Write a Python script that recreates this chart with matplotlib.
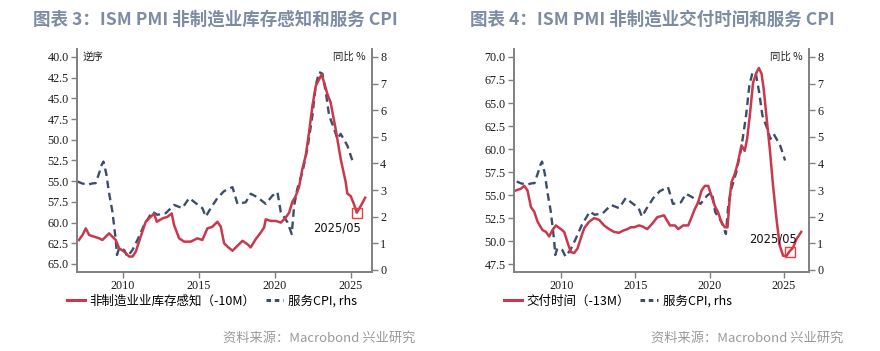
import matplotlib
matplotlib.use("Agg")
import matplotlib.pyplot as plt
from matplotlib.lines import Line2D

plt.rcParams['font.family'] = ['Noto Sans CJK SC', 'DejaVu Sans']

# ---------------- data ----------------
cpi_t = [2007.0, 2007.3, 2007.66, 2008.0, 2008.2, 2008.43, 2008.6, 2008.71, 2008.9, 2009.08,
         2009.3, 2009.52, 2009.6, 2009.74, 2010.07, 2010.29, 2010.62, 2010.95, 2011.39, 2011.93,
         2012.26, 2012.81, 2013.36, 2013.9, 2014.35, 2014.78, 2015.22, 2015.44, 2015.77, 2016.21,
         2016.65, 2017.2, 2017.53, 2018.07, 2018.4, 2018.84, 2019.39, 2019.83, 2020.16, 2020.38,
         2020.82, 2021.1, 2021.26, 2021.47, 2021.8, 2022.13, 2022.46, 2022.68, 2022.9, 2023.12,
         2023.34, 2023.56, 2023.89, 2024.1, 2024.32, 2024.76, 2025.09]
cpi_v = [3.32, 3.25, 3.2, 3.25, 3.26, 3.64, 3.95, 4.07, 3.6, 2.89,
         2.19, 1.13, 0.56, 0.81, 0.75, 0.5, 0.75, 1.13, 1.69, 2.19,
         2.07, 2.13, 2.44, 2.32, 2.7, 2.51, 2.32, 2.0, 2.32, 2.7,
         2.96, 3.11, 2.48, 2.54, 2.86, 2.73, 2.48, 2.79, 2.92, 2.17,
         1.79, 1.35, 2.42, 3.05, 3.67, 4.55, 5.8, 6.93, 7.43, 7.37,
         6.68, 5.8, 5.3, 4.92, 5.11, 4.67, 4.11]

inv_t = [2007.1, 2007.33, 2007.55, 2007.77, 2008.1, 2008.43, 2008.64, 2008.86, 2009.08, 2009.3,
         2009.52, 2009.74, 2010.07, 2010.4, 2010.62, 2010.84, 2011.16, 2011.49, 2011.82, 2012.04,
         2012.22, 2012.59, 2012.92, 2013.2, 2013.36, 2013.69, 2014.02, 2014.45, 2014.89, 2015.22,
         2015.55, 2015.88, 2016.21, 2016.43, 2016.65, 2016.87, 2017.2, 2017.53, 2017.86, 2018.18,
         2018.4, 2018.73, 2019.06, 2019.28, 2019.39, 2019.72, 2020.05, 2020.38, 2020.7, 2020.93,
         2021.14, 2021.36, 2021.58, 2021.8, 2022.02, 2022.24, 2022.46, 2022.68, 2022.9, 2023.07,
         2023.23, 2023.45, 2023.66, 2023.99, 2024.32, 2024.65, 2024.76, 2024.98, 2025.2, 2025.38,
         2025.64, 2025.93]
inv_v = [62.1, 61.5, 60.7, 61.5, 61.7, 61.9, 62.1, 61.7, 61.3, 61.7,
         62.1, 63.1, 63.5, 64.1, 64.1, 63.5, 61.7, 59.9, 59.3, 58.9,
         59.9, 59.5, 59.3, 58.9, 60.3, 61.9, 62.3, 62.3, 61.9, 62.1,
         60.7, 60.5, 59.9, 60.5, 62.5, 62.9, 63.4, 62.8, 62.2, 62.6,
         63.0, 62.0, 61.2, 60.6, 59.6, 59.8, 59.8, 60.0, 59.4, 58.8,
         57.5, 56.8, 55.7, 53.5, 51.9, 49.1, 45.9, 43.5, 42.7, 42.1,
         43.1, 44.5, 45.5, 48.7, 52.3, 55.1, 56.5, 56.8, 57.8, 58.8,
         58.0, 57.0]

del_t = [2006.95, 2007.29, 2007.51, 2007.73, 2007.96, 2008.18, 2008.41, 2008.74, 2008.97, 2009.19,
         2009.41, 2009.64, 2009.98, 2010.2, 2010.42, 2010.65, 2010.87, 2011.1, 2011.32, 2011.55,
         2011.88, 2012.22, 2012.56, 2012.89, 2013.23, 2013.56, 2013.9, 2014.12, 2014.46, 2014.69,
         2014.91, 2015.25, 2015.47, 2015.8, 2016.14, 2016.48, 2016.93, 2017.33, 2017.67, 2017.89,
         2018.22, 2018.56, 2018.79, 2019.01, 2019.23, 2019.46, 2019.68, 2019.91, 2020.13, 2020.36,
         2020.58, 2020.81, 2021.03, 2021.21, 2021.37, 2021.48, 2021.7, 2021.92, 2022.15, 2022.37,
         2022.53, 2022.71, 2022.93, 2023.16, 2023.32, 2023.5, 2023.65, 2023.83, 2024.06, 2024.28,
         2024.51, 2024.73, 2024.96, 2025.18, 2025.4, 2025.63, 2025.85, 2026.18]
del_v = [55.5, 55.7, 56.0, 55.5, 53.7, 53.2, 52.1, 51.2, 51.0, 50.5,
         51.2, 51.7, 51.3, 51.0, 49.9, 48.8, 48.7, 49.2, 50.3, 51.4,
         52.1, 52.5, 52.3, 51.7, 51.3, 51.0, 50.9, 51.1, 51.3, 51.5,
         51.5, 51.7, 51.6, 51.3, 51.9, 52.6, 52.8, 51.7, 51.7, 51.3,
         51.7, 51.7, 52.6, 53.5, 54.2, 55.5, 56.0, 56.0, 54.9, 53.8,
         53.1, 52.0, 51.5, 51.5, 54.9, 56.4, 57.3, 58.6, 60.4, 59.8,
         61.1, 63.6, 67.2, 68.3, 68.8, 68.2, 66.5, 63.6, 60.0, 56.0,
         52.4, 49.5, 48.4, 48.4, 48.9, 49.3, 50.2, 51.0]

mark_label = "2025/05"
inv_mark = (2025.38, 58.8)
del_mark = (2025.40, 48.8)

left_ticks = [40.0, 42.5, 45.0, 47.5, 50.0, 52.5, 55.0, 57.5, 60.0, 62.5, 65.0]
right_left_ticks = [47.5, 50.0, 52.5, 55.0, 57.5, 60.0, 62.5, 65.0, 67.5, 70.0]
rhs_ticks = [0, 1, 2, 3, 4, 5, 6, 7, 8]
year_ticks = [2010, 2015, 2020, 2025]

titles = ["图表 3：ISM PMI 非制造业库存感知和服务 CPI",
          "图表 4：ISM PMI 非制造业交付时间和服务 CPI"]
red_labels = ["非制造业业库存感知（-10M）", "交付时间（-13M）"]
cpi_label = "服务CPI, rhs"
source = "资料来源：Macrobond 兴业研究"

# ---------------- style ----------------
RED = "#c9384b"
NAVY = "#3c4d6b"
SPINE = "#808080"
TITLE_C = "#7d8ca3"
tick_font = dict(family=['Liberation Serif', 'DejaVu Serif'], size=8.7)

fig = plt.figure(figsize=(8.8, 3.51), dpi=100)

def build(rect, red_t, red_v, ylim, yticks, xlim, mark, red_label, title, title_x, src_x, text_xy):
    ax = fig.add_axes(rect)
    ax2 = ax.twinx()
    ax.set_zorder(ax2.get_zorder() + 1)
    ax.patch.set_visible(False)
    ax2.plot(cpi_t, cpi_v, color=NAVY, lw=1.7, ls=(0, (3.2, 2.0)), label=cpi_label)
    ax.plot(red_t, red_v, color=RED, lw=1.8, label=red_label)
    ax.plot([mark[0]], [mark[1]], marker='s', ms=7, mfc='none', mec='#f03c3c', mew=1.0)
    ax.set_ylim(*ylim)
    ax.set_yticks(yticks)
    ax.set_yticklabels([f"{v:.1f}" for v in yticks], fontdict=tick_font)
    ax2.set_ylim(-0.08, 8.3)
    ax2.set_yticks(rhs_ticks)
    ax2.set_yticklabels([str(v) for v in rhs_ticks], fontdict=tick_font)
    ax.set_xlim(*xlim)
    ax.set_xticks(year_ticks)
    ax.set_xticklabels([str(v) for v in year_ticks], fontdict=tick_font)
    for a in (ax, ax2):
        a.spines['top'].set_visible(False)
        for s in ('left', 'right', 'bottom'):
            a.spines[s].set_color(SPINE)
            a.spines[s].set_linewidth(1.2)
        a.tick_params(axis='both', colors=SPINE, labelcolor='#1a1a1a', length=4, width=1.0, pad=2)
    ax.text(*text_xy, mark_label, transform=ax.transData, ha='center', va='center',
            fontsize=8.3, family=['DejaVu Sans'], color='#111111')
    ax.text(0.02, 0.965, "逆序" if ylim[0] > ylim[1] else "", transform=ax.transAxes,
            ha='left', va='center', fontsize=7.5, color='#222222')
    ax2.text(0.98, 0.965, "同比 %", transform=ax2.transAxes, ha='right', va='center',
             fontsize=7.5, color='#222222')
    handles = [Line2D([], [], color=RED, lw=2.2),
               Line2D([], [], color=NAVY, lw=2.2, ls=(0, (1.5, 1.2)))]
    ax.legend(handles, [red_label, cpi_label], loc='upper left', bbox_to_anchor=(-0.05, -0.08),
              ncol=2, frameon=False, fontsize=9, handlelength=1.4, handletextpad=0.4,
              columnspacing=0.8, borderaxespad=0)
    fig.text(title_x, 0.943, title, ha='left', va='center', fontsize=12.6,
             fontweight='bold', color=TITLE_C)
    fig.text(src_x, 0.035, source, ha='right', va='center', fontsize=9.5, color='#9a9a9a')
    return ax

build([0.0875, 0.225, 0.3352, 0.6355], inv_t, inv_v, (65.97, 39.03), left_ticks,
      (2006.97, 2026.38), inv_mark, red_labels[0], titles[0], 0.037, 0.472, (2024.05, 60.65))
build([0.5841, 0.225, 0.3352, 0.6355], del_t, del_v, (46.64, 70.87), right_left_ticks,
      (2006.82, 2026.7), del_mark, red_labels[1], titles[1], 0.534, 0.958, (2024.25, 50.2))

fig.savefig("out.png", dpi=100)
